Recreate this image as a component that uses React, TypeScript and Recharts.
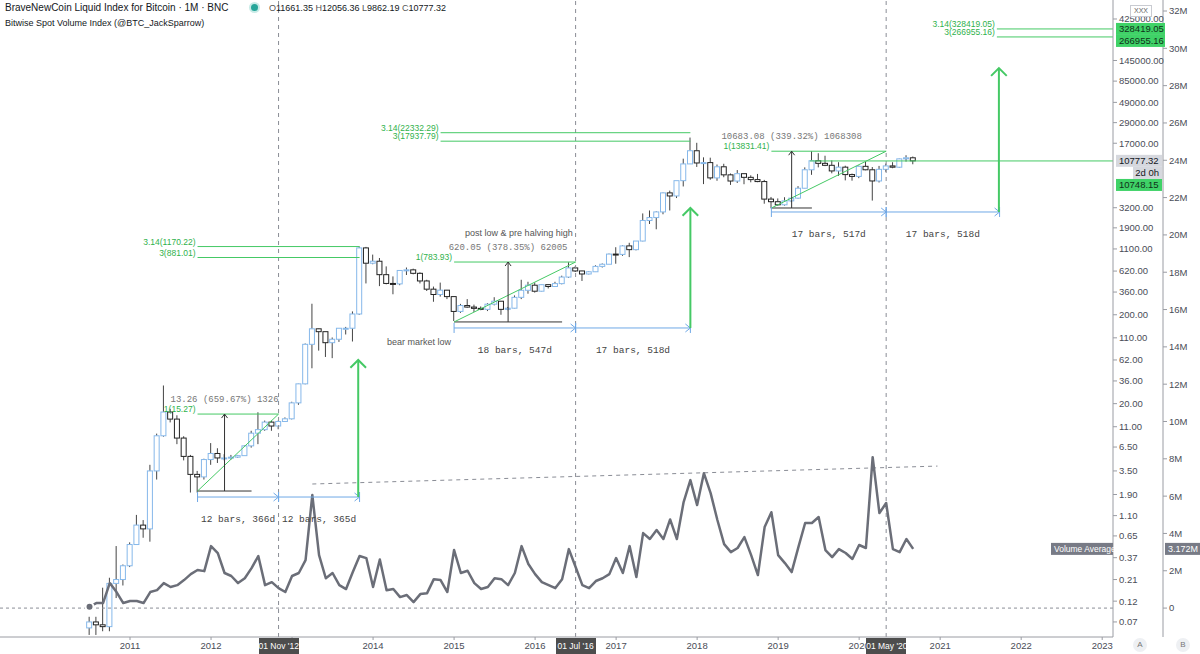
import React from 'react';
import { ComposedChart, Bar, Line, XAxis, YAxis, ReferenceLine, ReferenceDot } from 'recharts';

// months are counted from Jan 2010 (0); the first candle is Jul 2010
const START = 6;
const X_MIN = -7.26;
const X_MAX = 157.6;
const P_MIN = 0.0474;
const P_MAX = 695000;
const PLOT_W = 1113;

const SANS = '"Liberation Sans", Arial, sans-serif';
const MONO = '"Liberation Mono", "DejaVu Sans Mono", monospace';
const GREEN = '#45c965';
const GREEN_TXT = '#2fb24c';
const BLUE = '#6fa8e6';
const INK = '#333';
const GRAY = '#8a8d96';

const opens = [
  0.06, 0.07, 0.065, 0.062, 0.19, 0.21,
  0.3, 0.52, 0.86, 0.78, 3.5, 8.7, 16.1, 13.4, 8.2, 5.1, 3.2, 3.0,
  4.7, 5.5, 4.9, 4.9, 5.0, 5.2, 6.7, 9.3, 10.2, 12.4, 11.2, 12.6,
  13.5, 20.4, 33.4, 93, 139, 129, 97, 106, 141, 141, 204, 1130,
  760, 800, 565, 450, 445, 630, 640, 585, 480, 388, 338, 378,
  320, 218, 254, 244, 236, 230, 263, 284, 230, 237, 314, 377,
  430, 368, 436, 416, 448, 531, 673, 622, 575, 609, 700, 740,
  963, 955, 1190, 1080, 1350, 2300, 2480, 2870, 4700, 4340, 6450, 9950,
  14000, 10200, 10300, 6930, 9240, 7500, 6390, 7730, 7030, 6630, 6300, 4000,
  3740, 3450, 3820, 4100, 5300, 8550, 10800, 10100, 9600, 8300, 9150, 7550,
  7200, 9350, 8550, 6400, 8650, 9450, 9140, 11350, 11661.35,
];
const highs = [
  0.08, 0.08, 0.17, 0.22, 0.5, 0.31,
  0.55, 1.12, 0.98, 4.1, 9.2, 32, 17.5, 14.8, 8.6, 5.3, 3.5, 4.8,
  7.2, 6.3, 5.4, 5.3, 5.3, 6.8, 9.9, 16, 12.9, 12.9, 12.9, 14,
  21, 33.6, 95, 266, 140, 129, 111, 141, 146, 218, 1170, 1160,
  950, 870, 700, 540, 630, 680, 660, 600, 495, 415, 460, 380,
  320, 265, 300, 260, 248, 270, 315, 285, 245, 330, 495, 470,
  460, 440, 440, 470, 550, 780, 705, 625, 620, 720, 755, 975,
  1150, 1210, 1290, 1350, 2760, 2980, 2920, 4750, 4980, 6450, 11400, 19700,
  17200, 11800, 11700, 9800, 9990, 7770, 8490, 7770, 7410, 7680, 6580, 4230,
  4070, 4200, 4100, 5600, 9100, 13830, 13130, 12300, 10900, 10400, 9500, 7750,
  9550, 10500, 9180, 9450, 10050, 10400, 11450, 12460, 12056.36,
];
const lows = [
  0.05, 0.05, 0.055, 0.055, 0.13, 0.18,
  0.29, 0.52, 0.62, 0.56, 2.8, 8.5, 12.3, 7.0, 4.6, 2.0, 2.0, 2.8,
  4.1, 4.3, 4.6, 4.7, 4.9, 5.2, 6.4, 7.0, 9.9, 9.9, 10.3, 12.5,
  13.3, 19.4, 33, 50, 79, 67, 65, 99, 120, 100, 200, 450,
  740, 420, 440, 340, 430, 560, 570, 450, 370, 280, 320, 300,
  170, 210, 240, 215, 225, 220, 255, 200, 225, 235, 300, 345,
  355, 365, 395, 412, 440, 520, 605, 480, 570, 605, 680, 740,
  750, 920, 890, 1060, 1340, 2100, 1830, 2700, 2980, 4110, 5550, 10900,
  9200, 5900, 6600, 6430, 7050, 5780, 6080, 5880, 6180, 6200, 3550, 3150,
  3370, 3380, 3700, 4040, 5330, 7500, 9100, 9400, 7800, 7300, 6500, 6450,
  6880, 8450, 3850, 6150, 8120, 8900, 8990, 10560, 9862.19,
];
const closes = [
  0.07, 0.065, 0.062, 0.19, 0.21, 0.3,
  0.52, 0.86, 0.78, 3.5, 8.7, 16.1, 13.4, 8.2, 5.1, 3.2, 3.0, 4.7,
  5.5, 4.9, 4.9, 5.0, 5.2, 6.7, 9.3, 10.2, 12.4, 11.2, 12.6, 13.5,
  20.4, 33.4, 93, 139, 129, 97, 106, 141, 141, 204, 1130, 760,
  800, 565, 450, 445, 630, 640, 585, 480, 388, 338, 378, 320,
  218, 254, 244, 236, 230, 263, 284, 230, 237, 314, 377, 430,
  368, 436, 416, 448, 531, 673, 622, 575, 609, 700, 740, 963,
  955, 1190, 1080, 1350, 2300, 2480, 2870, 4700, 4340, 6450, 9950, 14000,
  10200, 10300, 6930, 9240, 7500, 6390, 7730, 7030, 6630, 6300, 4000, 3740,
  3450, 3820, 4100, 5300, 8550, 10800, 10100, 9600, 8300, 9150, 7550, 7200,
  9350, 8550, 6400, 8650, 9450, 9140, 11350, 11661.35, 10777.32,
];
// volume average, millions
const volumes = [
  0.07, 0.27, 0.27, 1.34, 0.86, 0.27,
  0.38, 0.38, 0.27, 0.86, 0.96, 1.34, 1.13, 1.23, 1.5, 1.82, 2.04, 1.98,
  3.32, 2.95, 1.88, 1.72, 1.34, 1.6, 2.14, 2.79, 1.23, 1.39, 1.07, 0.86,
  1.72, 1.88, 2.57, 6.06, 2.84, 1.6, 1.88, 1.23, 1.02, 1.93, 2.79, 2.68,
  1.13, 2.6, 0.96, 1.02, 0.59, 0.7, 0.32, 0.75, 0.8, 1.55, 1.5, 0.86,
  3.11, 1.88, 2.0, 1.34, 1.02, 1.13, 1.6, 1.55, 1.23, 1.88, 3.32, 2.36,
  1.82, 1.39, 1.23, 1.07, 1.55, 3.16, 2.2, 1.23, 1.07, 1.45, 1.6, 1.82,
  2.68, 1.88, 3.32, 1.66, 4.02, 3.7, 4.18, 3.7, 4.75, 3.7, 5.68, 6.86,
  5.52, 7.23, 6.16, 4.72, 3.43, 3.0, 3.22, 3.8, 2.84, 1.77, 4.34, 5.14,
  2.84, 2.41, 1.93, 3.27, 4.56, 4.56, 4.88, 3.11, 2.73, 3.16, 2.95, 2.63,
  3.38, 3.22, 8.09, 5.09, 5.63, 3.16, 3.0, 3.7, 3.172,
];

const yearTicks = [12, 24, 36, 48, 60, 72, 84, 96, 108, 120, 132, 144, 156];
const yearLabels = ['2011', '2012', '2013', '2014', '2015', '2016', '2017', '2018', '2019', '2020', '2021', '2022', '2023'];
const priceTicks = [425000, 145000, 85000, 49000, 29000, 17000, 3200, 1900, 1100, 620, 360, 200, 110, 62, 36, 20, 11, 6.5, 3.5, 1.9, 1.1, 0.65, 0.37, 0.21, 0.12, 0.07];
const volTicks = [0, 2, 4, 6, 8, 10, 12, 14, 16, 18, 20, 22, 24, 26, 28, 30, 32];

const cycleLines = [34, 78, 124];
const cycleLabels = ["01 Nov '12", "01 Jul '16", "01 May '20"];

const fibLevels = [
  { text: '1(15.27)', price: 15.27, from: 22, to: 34 },
  { text: '3.14(1170.22)', price: 1170.22, from: 22, to: 46 },
  { text: '3(881.01)', price: 881.01, from: 22, to: 46 },
  { text: '1(783.93)', price: 783.93, from: 60, to: 78 },
  { text: '3.14(22332.29)', price: 22332.29, from: 58, to: 95 },
  { text: '3(17937.79)', price: 17937.79, from: 58, to: 95 },
  { text: '1(13831.41)', price: 13831.41, from: 107, to: 124 },
  { text: '3.14(328419.05)', price: 328419.05, from: 140.4, to: X_MAX },
  { text: '3(266955.16)', price: 266955.16, from: 140.4, to: X_MAX },
];

const ranges = [
  { from: 22, to: 30, mid: 26, low: 2.08, high: 15.27, diagTo: 34, stat: '13.26 (659.67%) 1326' },
  { from: 60, to: 76, mid: 68, low: 166, high: 783.93, diagTo: 78, stat: '620.05 (378.35%) 62005' },
  { from: 107, to: 113, mid: 110, low: 3178, high: 13831.41, diagTo: 124, stat: '10683.08 (339.32%) 1068308' },
];

const spans = [
  { from: 22, to: 34, price: 1.78, text: '12 bars, 366d' },
  { from: 34, to: 46, price: 1.78, text: '12 bars, 365d' },
  { from: 60, to: 78, price: 142, text: '18 bars, 547d' },
  { from: 78, to: 95, price: 142, text: '17 bars, 518d' },
  { from: 107, to: 124, price: 2865, text: '17 bars, 517d' },
  { from: 124, to: 140.8, price: 2865, text: '17 bars, 518d' },
];

const projections = [
  { x: 45.8, from: 1.78, to: 62 },
  { x: 95, from: 142, to: 3180 },
  { x: 140.7, from: 2865, to: 119000 },
];

const notes = [
  { text: 'post low & pre halving high', x: 69.6, price: 1664 },
  { text: 'bear market low', x: 54.8, price: 98.9 },
];

const rows = opens.map((o, k) => ({
  i: START + k,
  o,
  h: highs[k],
  l: lows[k],
  c: closes[k],
  v: volumes[k],
}));

const xPixel = (x: number) => ((x - X_MIN) / (X_MAX - X_MIN)) * PLOT_W;

// a year label fully hidden under a cycle date box is left out, as on the original
const yearText = (v: number) => {
  const covered = cycleLines.some((c) => Math.abs(xPixel(c) - xPixel(v)) < 16);
  return covered ? '' : yearLabels[yearTicks.indexOf(v)];
};

const Candle = (props: any) => {
  const { x, y, width, height, payload } = props;
  if (!payload) return null;
  const top = Math.min(y, y + height);
  const bot = Math.max(y, y + height);
  const span = Math.log(payload.h) - Math.log(payload.l);
  const at = (v: number) => (span > 0 ? top + ((bot - top) * (Math.log(payload.h) - Math.log(v))) / span : top);
  const yo = at(payload.o);
  const yc = at(payload.c);
  const up = payload.c >= payload.o;
  const cx = x + width / 2;
  const bt = Math.min(yo, yc);
  const bh = Math.max(Math.abs(yo - yc), 1);
  return (
    <g>
      <line x1={cx} x2={cx} y1={top} y2={bt} stroke="#444" strokeWidth={1} />
      <line x1={cx} x2={cx} y1={bt + bh} y2={bot} stroke="#444" strokeWidth={1} />
      <rect x={x + 0.5} y={bt} width={width - 1} height={bh} fill="#fff" stroke={up ? '#86b8ea' : '#222'} strokeWidth={1} />
    </g>
  );
};

const arrow = (color: string, w: number, head: number, spread: number) => (p: any) => {
  const { x1, y1, x2, y2 } = p;
  const a = Math.atan2(y2 - y1, x2 - x1);
  const hx1 = x2 + head * Math.cos(a + spread);
  const hy1 = y2 + head * Math.sin(a + spread);
  const hx2 = x2 + head * Math.cos(a - spread);
  const hy2 = y2 + head * Math.sin(a - spread);
  return (
    <g>
      <line x1={x1} y1={y1} x2={x2} y2={y2} stroke={color} strokeWidth={w} />
      <path d={`M${hx1},${hy1} L${x2},${y2} L${hx2},${hy2}`} fill="none" stroke={color} strokeWidth={w} />
    </g>
  );
};

const spanShape = (p: any) => {
  const { x1, y1, x2, y2 } = p;
  return (
    <g stroke={BLUE} strokeWidth={1} fill="none">
      <line x1={x1} y1={y1} x2={x2} y2={y2} />
      <line x1={x1} y1={y1 - 5} x2={x1} y2={y1 + 5} />
      <line x1={x2} y1={y2 - 5} x2={x2} y2={y2 + 5} />
      <path d={`M${x2 - 5},${y2 - 4} L${x2},${y2} L${x2 - 5},${y2 + 4}`} />
    </g>
  );
};

const textAt = (text: string, o: { anchor?: string; dx?: number; dy?: number; color?: string; size?: number; family?: string }) => (p: any) => (
  <text
    x={p.cx + (o.dx || 0)}
    y={p.cy + (o.dy || 0)}
    textAnchor={o.anchor || 'middle'}
    fill={o.color || '#666'}
    fontSize={o.size || 9}
    fontFamily={o.family || SANS}
  >
    {text}
  </text>
);

const boxAt = (text: string, o: { dx: number; dy: number; w: number; bg: string; color: string; anchor?: string; size?: number }) => (p: any) => (
  <g>
    <rect x={p.cx + o.dx} y={p.cy + o.dy - 6} width={o.w} height={12} fill={o.bg} />
    <text
      x={o.anchor === 'end' ? p.cx + o.dx + o.w - 3 : p.cx + o.dx + 3}
      y={p.cy + o.dy + 3.5}
      textAnchor={o.anchor || 'start'}
      fill={o.color}
      fontSize={o.size || 9.5}
      fontFamily={SANS}
    >
      {text}
    </text>
  </g>
);

export default function App() {
  return (
    <div style={{ position: 'absolute', left: 0, top: 0, width: 1200, height: 654, background: '#fff', overflow: 'hidden' }}>
      <ComposedChart width={1200} height={654} data={rows} margin={{ top: 0, right: 0, left: 0, bottom: 0 }}>
        <XAxis
          dataKey="i"
          type="number"
          domain={[X_MIN, X_MAX]}
          allowDataOverflow
          ticks={yearTicks}
          interval={0}
          tickFormatter={yearText}
          height={17}
          tickSize={3}
          tick={{ fontSize: 9.5, fill: '#4a4d57', fontFamily: SANS }}
          stroke="#9a9ca3"
        />
        <YAxis
          yAxisId="price"
          orientation="right"
          scale="log"
          domain={[P_MIN, P_MAX]}
          allowDataOverflow
          ticks={priceTicks}
          interval={0}
          tickFormatter={(v: number) => v.toFixed(2)}
          width={50}
          tickSize={4}
          tick={{ fontSize: 9.5, fill: '#4a4d57', fontFamily: SANS }}
          stroke="#9a9ca3"
        />
        <YAxis
          yAxisId="vol"
          orientation="right"
          domain={[-1.55, 32.59]}
          allowDataOverflow
          ticks={volTicks}
          interval={0}
          tickFormatter={(v: number) => (v === 0 ? '0' : `${v}M`)}
          width={37}
          tickSize={4}
          tick={{ fontSize: 9.5, fill: '#4a4d57', fontFamily: SANS }}
          stroke="#9a9ca3"
        />

        {cycleLines.map((x) => (
          <ReferenceLine key={`c${x}`} x={x} yAxisId="price" stroke={GRAY} strokeDasharray="4 4" />
        ))}
        <ReferenceLine y={0} yAxisId="vol" stroke={GRAY} strokeDasharray="3 3" />
        <ReferenceLine
          yAxisId="vol"
          segment={[{ x: 39, y: 6.65 }, { x: 131.6, y: 7.61 }]}
          stroke={GRAY}
          strokeDasharray="4 4"
        />

        <Line yAxisId="vol" dataKey="v" stroke="#6b6e78" strokeWidth={2.5} dot={false} strokeLinejoin="round" isAnimationActive={false} />
        <Bar yAxisId="price" dataKey={(d: any) => [d.l, d.h]} barSize={6} shape={Candle} isAnimationActive={false} />

        {fibLevels.map((f) => (
          <ReferenceLine
            key={f.text}
            yAxisId="price"
            segment={[{ x: f.from, y: f.price }, { x: f.to, y: f.price }]}
            stroke={GREEN}
            strokeWidth={1}
          />
        ))}
        {fibLevels.map((f) => (
          <ReferenceDot
            key={`t${f.text}`}
            yAxisId="price"
            x={f.from}
            y={f.price}
            shape={textAt(f.text, { anchor: 'end', dx: -2, dy: -2, color: GREEN_TXT, size: 8.5 })}
          />
        ))}
        <ReferenceLine
          yAxisId="price"
          segment={[{ x: 112.7, y: 10748.15 }, { x: X_MAX, y: 10748.15 }]}
          stroke={GREEN}
        />

        {ranges.map((r) => (
          <ReferenceLine
            key={`rb${r.from}`}
            yAxisId="price"
            segment={[{ x: r.from, y: r.low }, { x: r.to, y: r.low }]}
            stroke={INK}
          />
        ))}
        {ranges.map((r) => (
          <ReferenceLine
            key={`rd${r.from}`}
            yAxisId="price"
            segment={[{ x: r.from, y: r.low }, { x: r.diagTo, y: r.high }]}
            stroke={GREEN}
          />
        ))}
        {ranges.map((r) => (
          <ReferenceLine
            key={`ra${r.from}`}
            yAxisId="price"
            segment={[{ x: r.mid, y: r.low }, { x: r.mid, y: r.high }]}
            shape={arrow(INK, 1, 5, 2.5)}
          />
        ))}
        {ranges.map((r) => (
          <ReferenceDot
            key={`rt${r.from}`}
            yAxisId="price"
            x={r.mid}
            y={r.high}
            shape={textAt(r.stat, { dy: -12, color: '#777', size: 9, family: MONO })}
          />
        ))}

        {spans.map((s) => (
          <ReferenceLine
            key={`s${s.from}`}
            yAxisId="price"
            segment={[{ x: s.from, y: s.price }, { x: s.to, y: s.price }]}
            shape={spanShape}
          />
        ))}
        {spans.map((s) => (
          <ReferenceDot
            key={`st${s.from}`}
            yAxisId="price"
            x={(s.from + s.to) / 2}
            y={s.price}
            shape={textAt(s.text, { dy: 25, color: '#444', size: 9.5, family: MONO })}
          />
        ))}

        {projections.map((p) => (
          <ReferenceLine
            key={`p${p.x}`}
            yAxisId="price"
            segment={[{ x: p.x, y: p.from }, { x: p.x, y: p.to }]}
            shape={arrow(GREEN, 2, 11, 2.35)}
          />
        ))}

        {notes.map((n) => (
          <ReferenceDot
            key={n.text}
            yAxisId="price"
            x={n.x}
            y={n.price}
            shape={textAt(n.text, { dy: 3, color: '#555', size: 9 })}
          />
        ))}

        <ReferenceDot yAxisId="price" x={X_MAX} y={328419.05} shape={boxAt('328419.05', { dx: 3, dy: 0, w: 49, bg: '#3fd267', color: '#10301a' })} />
        <ReferenceDot yAxisId="price" x={X_MAX} y={266955.16} shape={boxAt('266955.16', { dx: 3, dy: 4, w: 49, bg: '#3fd267', color: '#10301a' })} />
        <ReferenceDot yAxisId="price" x={X_MAX} y={10777.32} shape={boxAt('10777.32', { dx: 3, dy: 0, w: 46, bg: '#d6d8de', color: '#131722' })} />
        <ReferenceDot yAxisId="price" x={X_MAX} y={10777.32} shape={boxAt('2d 0h', { dx: 20, dy: 12, w: 29, bg: '#d6d8de', color: '#131722', anchor: 'end' })} />
        <ReferenceDot yAxisId="price" x={X_MAX} y={10748.15} shape={boxAt('10748.15', { dx: 3, dy: 24, w: 46, bg: '#3fd267', color: '#10301a' })} />
        <ReferenceDot yAxisId="vol" x={X_MAX} y={3.172} shape={boxAt('Volume Average', { dx: -62, dy: 0, w: 62, bg: '#787b86', color: '#fff', size: 8.5 })} />
        <ReferenceDot yAxisId="vol" x={X_MAX} y={3.172} shape={boxAt('3.172M', { dx: 52, dy: 0, w: 35, bg: '#787b86', color: '#fff', size: 9 })} />
      </ComposedChart>

      {cycleLines.map((x, k) => (
        <div
          key={`d${x}`}
          style={{ position: 'absolute', left: xPixel(x) - 20, top: 638, width: 40, height: 16, background: '#4d4d4d', color: '#fff', fontFamily: SANS, fontSize: 8.5, lineHeight: '16px', textAlign: 'center', whiteSpace: 'nowrap' }}
        >
          {cycleLabels[k]}
        </div>
      ))}

      <div style={{ position: 'absolute', left: 1130, top: 5, width: 20, height: 10, border: '1px solid #c9cbd1', background: '#fff', fontSize: 7, lineHeight: '10px', textAlign: 'center', color: '#666', fontFamily: SANS }}>
        XXX
      </div>
      <div style={{ position: 'absolute', left: 1133, top: 638, width: 14, height: 14, borderRadius: 7, background: '#eef0f3', fontSize: 8, lineHeight: '14px', textAlign: 'center', color: '#777', fontFamily: SANS }}>A</div>
      <div style={{ position: 'absolute', left: 1176, top: 638, width: 14, height: 14, borderRadius: 7, background: '#eef0f3', fontSize: 8, lineHeight: '14px', textAlign: 'center', color: '#777', fontFamily: SANS }}>B</div>

      <div style={{ position: 'absolute', left: 5, top: 2, fontFamily: SANS, fontSize: 10, color: '#131722', whiteSpace: 'nowrap' }}>
        BraveNewCoin Liquid Index for Bitcoin · 1M · BNC
      </div>
      <div style={{ position: 'absolute', left: 251, top: 4, width: 7, height: 7, borderRadius: 4, background: '#26a69a', boxShadow: '0 0 0 2px #c8ebe7' }} />
      <div style={{ position: 'absolute', left: 269, top: 3, fontFamily: SANS, fontSize: 9, color: '#131722', whiteSpace: 'nowrap' }}>
        <span style={{ color: '#555' }}>O</span>11661.35 <span style={{ color: '#555' }}>H</span>12056.36{' '}
        <span style={{ color: '#555' }}>L</span>9862.19 <span style={{ color: '#555' }}>C</span>10777.32
      </div>
      <div style={{ position: 'absolute', left: 5, top: 18, fontFamily: SANS, fontSize: 9, color: '#131722', whiteSpace: 'nowrap' }}>
        Bitwise Spot Volume Index (@BTC_JackSparrow)
      </div>
    </div>
  );
}
